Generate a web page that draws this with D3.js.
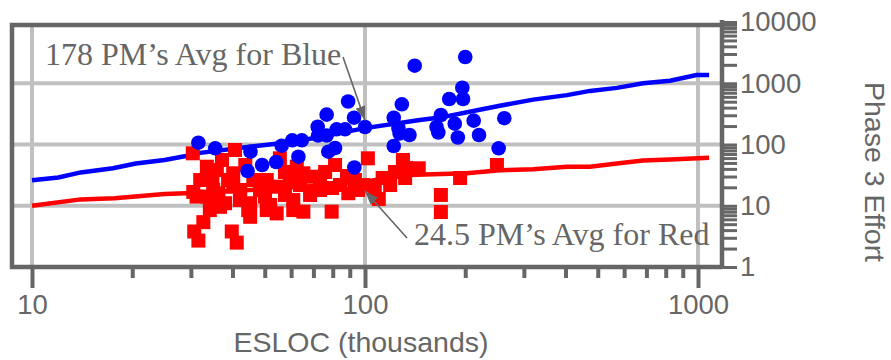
<!DOCTYPE html>
<html>
<head>
<meta charset="utf-8">
<script src="https://cdn.jsdelivr.net/npm/d3@7"></script>
<style>
  body { margin: 0; background: #fff; }
  text { fill: #666; }
</style>
</head>
<body>
<div id="chart"></div>
<script>
// labelled ticks
const xTicks = [10, 100, 1000];
const yTicks = [1, 10, 100, 1000, 10000];

// average effort curves [ESLOC, PM]
const blueAvg = [[10,26],[12,29],[14,35],[17.5,41],[20.5,49],[25,56],[29,65],[32,73],[45,92],[62,112],
  [100,185],[146,251],[168,275],[221,370],[254,430],[320,540],[404,640],[474,750],[571,840],
  [684,1000],[824,1100],[990,1360],[1080,1360]];
const redAvg = [[10,10],[14,12.7],[17.7,13.2],[25,15.6],[29,16],[45,18],[70,21],[100,24.5],[127,31.5],
  [202,34],[254,38],[320,39.4],[404,43.4],[474,43.4],[571,49],[684,55],[824,57],[1080,61]];

// projects [ESLOC, PM]
const bluePoints = [[141,1935],[200,2680],[196,846],[179,553],[197,553],[89,504],[129,453],[76.7,307],
  [92.7,274],[122,274],[169,303],[212,245],[262,269],[72.1,195],[100,193],[82.2,177],[87.1,177],
  [126,186],[164,193],[166,157],[186,219],[136,143],[127,151],[72.3,140],[76.7,140],[190,130],
  [220,143],[122,94.6],[252,86.7],[81.3,87.7],[77.6,76.3],[63.1,63.2],[60.5,117],[64.6,117],
  [56.2,95.6],[92.9,42.1],[31.6,107],[35.5,86.7],[45.3,76.3],[44.4,36.9],[49.1,46.3],[54.1,51.8]];
const redPoints = [[30.4,71.8],[31.2,14.1],[30.5,16.8],[32,26.3],[32.7,5.4],[30.7,3.8],[31.6,2.7],
  [33.5,43.4],[35.9,38.3],[33.5,14.1],[35,18.1],[36.3,16],[36.7,9.6],[34.2,8.5],[38,11],[39.8,3.8],
  [41.2,2.5],[40.7,81.3],[40.2,33.9],[40.2,20.5],[42.1,12.4],[45.2,11],[44.6,8.5],[46.2,26.3],
  [50.1,14.1],[50.7,26.3],[54.3,20.5],[55.5,59.5],[59.5,26.3],[60.9,12.4],[54.3,7.5],[60.9,8.5],
  [50.7,8.5],[45.2,6.6],[62.4,43.4],[65.3,33.9],[69.9,29.8],[65.3,8],[81.3,46.3],[79.4,8],
  [89.1,16],[102,59.5],[98.8,21.8],[110,12.9],[113,28.4],[130,55.8],[133,41.3],[145,40.9],
  [169,15],[169,7.9],[193,28.4],[249,46.3],[73.3,18.1],[84.1,21.8],[93.3,26.3],[68.4,15],
  [57.5,15],[48.4,18.1],[43.7,46.3],[37.2,55.8],[123,35.6],[107,19.5],[75.9,35.6],
  [73.3,24.4],[79.6,19.5],[88.3,30.6],[95.3,18.1],[119,21.8],[132,28.4],[63.8,21.8],[57.5,35.6],
  [51.9,10.3],[38.8,26.3],[34.8,28.4],[42.2,18.1]];

const blueNote = { text: "178 PM\u2019s Avg for Blue", at: 178 };
const redNote = { text: "24.5 PM\u2019s Avg for Red", at: 24.5 };

const width = 891, height = 360;
const frame = { left: 12, right: 722, top: 25, bottom: 267 };
const axisGrey = "#666", gridGrey = "#c0c0c0";
const sans = "'Liberation Sans', Arial, sans-serif";
const serif = "'Liberation Serif', 'Times New Roman', serif";

const x = d3.scaleLog().domain([10, 1000]).range([32, 698]);
const y = d3.scaleLog().domain([1, 10000]).range([267, 22]);

const svg = d3.select("#chart").append("svg")
  .attr("width", width)
  .attr("height", height)
  .style("font-family", sans);

// grid
svg.append("g").selectAll("line")
  .data(xTicks)
  .enter().append("line")
  .attr("x1", d => x(d)).attr("x2", d => x(d))
  .attr("y1", frame.top).attr("y2", frame.bottom)
  .attr("stroke", gridGrey).attr("stroke-width", 4);

svg.append("g").selectAll("line")
  .data(yTicks.slice(1, -1))
  .enter().append("line")
  .attr("x1", frame.left).attr("x2", frame.right)
  .attr("y1", d => y(d)).attr("y2", d => y(d))
  .attr("stroke", gridGrey).attr("stroke-width", 4);

// average lines
const line = d3.line()
  .x(d => x(d[0]))
  .y(d => y(d[1]));

svg.append("path").datum(blueAvg)
  .attr("d", line).attr("fill", "none")
  .attr("stroke", "#0000ff").attr("stroke-width", 4.5);

svg.append("path").datum(redAvg)
  .attr("d", line).attr("fill", "none")
  .attr("stroke", "#ff0000").attr("stroke-width", 4.5);

// points
const sq = 14;
svg.append("g").selectAll("rect")
  .data(redPoints)
  .enter().append("rect")
  .attr("x", d => x(d[0]) - sq / 2)
  .attr("y", d => y(d[1]) - sq / 2)
  .attr("width", sq).attr("height", sq)
  .attr("fill", "#ff0000");

svg.append("g").selectAll("circle")
  .data(bluePoints)
  .enter().append("circle")
  .attr("cx", d => x(d[0]))
  .attr("cy", d => y(d[1]))
  .attr("r", 7.3)
  .attr("fill", "#0000ff");

// frame (left, top, bottom)
svg.append("path")
  .attr("d", `M${frame.right},${frame.top}H${frame.left}V${frame.bottom}H${frame.right}`)
  .attr("fill", "none").attr("stroke", axisGrey).attr("stroke-width", 4.5);

// x axis: minor then major ticks
const xMinor = svg.append("g")
  .attr("transform", `translate(0,${frame.bottom})`)
  .call(d3.axisBottom(x).tickValues(x.ticks().filter(d => !xTicks.includes(d)))
    .tickSize(11).tickFormat(""));
const xMajor = svg.append("g")
  .attr("transform", `translate(0,${frame.bottom})`)
  .call(d3.axisBottom(x).tickValues(xTicks).tickSize(21).tickPadding(6)
    .tickFormat(d3.format("d")));
[xMinor, xMajor].forEach(g => {
  g.select(".domain").remove();
  g.selectAll(".tick line").attr("stroke", axisGrey).attr("stroke-width", 4);
  g.selectAll("text").attr("fill", axisGrey).style("font-size", "27.5px")
    .style("font-family", sans);
});

// y axis on the right
const yAxis = svg.append("g")
  .attr("transform", `translate(${frame.right},0)`)
  .call(d3.axisRight(y).tickValues(y.ticks()).tickSize(15).tickPadding(3)
    .tickFormat(d => yTicks.includes(d) ? d3.format("d")(d) : ""));
yAxis.select(".domain").remove();
yAxis.selectAll(".tick line").attr("stroke", axisGrey).attr("stroke-width", 3);
yAxis.selectAll("text").attr("fill", axisGrey).style("font-size", "27.5px")
  .style("font-family", sans);
svg.append("line")
  .attr("x1", frame.right).attr("x2", frame.right)
  .attr("y1", y(10000) - 2).attr("y2", frame.bottom + 2)
  .attr("stroke", axisGrey).attr("stroke-width", 4.5);

// axis titles
svg.append("text")
  .attr("x", 361).attr("y", 352)
  .attr("text-anchor", "middle")
  .style("font-size", "28.5px")
  .text("ESLOC (thousands)");

svg.append("text")
  .attr("transform", "translate(865,172) rotate(90)")
  .attr("text-anchor", "middle")
  .style("font-size", "28.5px")
  .text("Phase 3 Effort");

// annotations
svg.append("defs").append("marker")
  .attr("id", "head")
  .attr("markerUnits", "userSpaceOnUse")
  .attr("viewBox", "0 0 14 10")
  .attr("markerWidth", 14).attr("markerHeight", 10)
  .attr("refX", 14).attr("refY", 5)
  .attr("orient", "auto")
  .append("path").attr("d", "M0,0L14,5L0,10Z").attr("fill", axisGrey);

svg.append("text")
  .attr("x", 45).attr("y", 65)
  .style("font-family", serif).style("font-size", "32px")
  .text(blueNote.text);
svg.append("line")
  .attr("x1", 343).attr("y1", 57)
  .attr("x2", x(100)).attr("y2", y(blueNote.at) - 9)
  .attr("stroke", axisGrey).attr("stroke-width", 1.6)
  .attr("marker-end", "url(#head)");

svg.append("text")
  .attr("x", 414).attr("y", 245)
  .style("font-family", serif).style("font-size", "32px")
  .text(redNote.text);
svg.append("line")
  .attr("x1", 407).attr("y1", 238)
  .attr("x2", x(100)).attr("y2", y(redNote.at) + 9)
  .attr("stroke", axisGrey).attr("stroke-width", 1.6)
  .attr("marker-end", "url(#head)");
</script>
</body>
</html>
